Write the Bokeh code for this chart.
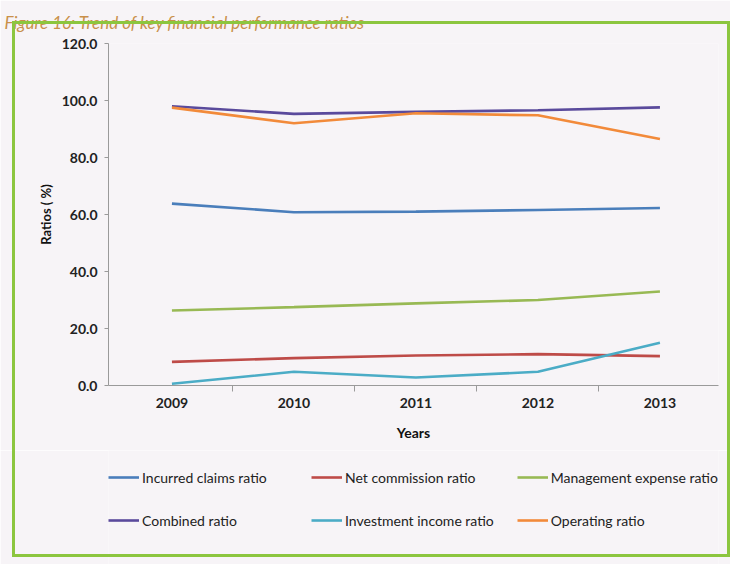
from bokeh.plotting import figure
from bokeh.layouts import column
from bokeh.models import (Legend, LegendItem, FixedTicker, NumeralTickFormatter,
                          Title, Range1d, InlineStyleSheet)
from bokeh.embed import file_html
from bokeh.resources import INLINE

# ---- data ----
years = [2009, 2010, 2011, 2012, 2013]
incurred_claims = [63.8, 60.8, 61.0, 61.6, 62.3]
net_commission = [8.3, 9.6, 10.5, 11.0, 10.3]
management_expense = [26.3, 27.5, 28.8, 30.0, 33.0]
combined = [98.0, 95.3, 96.0, 96.6, 97.6]
investment_income = [0.6, 4.8, 2.8, 4.8, 15.0]
operating = [97.5, 92.0, 95.5, 94.8, 86.5]
y_ticks = [0, 20, 40, 60, 80, 100, 120]

series = [
    ("Incurred claims ratio", incurred_claims, "#4a7ebb"),
    ("Net commission ratio", net_commission, "#be4b48"),
    ("Management expense ratio", management_expense, "#98b954"),
    ("Combined ratio", combined, "#5a4a9c"),
    ("Investment income ratio", investment_income, "#4bacc6"),
    ("Operating ratio", operating, "#f28a3a"),
]

FONT = "Lato"
BG = "#f7f4f7"

# ---- main chart ----
p = figure(width=730, height=450, output_backend="svg", toolbar_location=None,
           x_range=Range1d(2008.48, 2013.48), y_range=Range1d(0, 120),
           min_border_left=108, min_border_right=12, min_border_top=43,
           min_border_bottom=65)
p.background_fill_color = BG
p.border_fill_color = BG
p.outline_line_color = None
p.grid.visible = False

for name, vals, col in series:
    p.line(years, vals, line_color=col, line_width=2.6)

xa = p.xaxis[0]
xa.ticker = FixedTicker(ticks=years, minor_ticks=[y + 0.5 for y in years[:-1]])
xa.major_tick_line_color = None
xa.major_tick_out = 6
xa.minor_tick_out = 6
xa.minor_tick_in = 0
xa.minor_tick_line_color = "#9a9a9a"
xa.axis_line_color = "#9a9a9a"
xa.major_label_text_font = FONT
xa.major_label_text_font_size = "14px"
xa.major_label_text_font_style = "bold"
xa.major_label_text_color = "#222222"
xa.major_label_standoff = 6
xa.axis_label = "Years"
xa.axis_label_text_font = FONT
xa.axis_label_text_font_size = "14px"
xa.axis_label_text_font_style = "bold"
xa.axis_label_text_color = "#111111"
xa.axis_label_standoff = 13

ya = p.yaxis[0]
ya.ticker = FixedTicker(ticks=y_ticks)
ya.formatter = NumeralTickFormatter(format="0.0")
ya.minor_tick_line_color = None
ya.major_tick_out = 4
ya.major_tick_in = 0
ya.major_tick_line_color = "#9a9a9a"
ya.axis_line_color = "#9a9a9a"
ya.major_label_text_font = FONT
ya.major_label_text_font_size = "14px"
ya.major_label_text_font_style = "bold"
ya.major_label_text_color = "#222222"
ya.major_label_standoff = 7
ya.axis_label = "Ratios ( %)"
ya.axis_label_text_font = FONT
ya.axis_label_text_font_size = "13px"
ya.axis_label_text_font_style = "bold"
ya.axis_label_text_color = "#111111"
ya.axis_label_standoff = 5

p.add_layout(Title(text="Figure 16: Trend of key financial performance ratios",
                   text_font=FONT, text_font_size="17px",
                   text_font_style="italic", text_color="#c9904a",
                   align="left", vertical_align="top", offset=-104,
                   standoff=17), "above")

# ---- legend strip (separate figure so the legend is not clipped) ----
pl = figure(width=730, height=114, output_backend="svg", toolbar_location=None,
            x_range=Range1d(0, 1), y_range=Range1d(0, 1),
            x_axis_location=None, y_axis_location=None,
            min_border_left=0, min_border_right=0, min_border_top=0,
            min_border_bottom=0)
pl.background_fill_color = BG
pl.border_fill_color = BG
pl.outline_line_color = None
pl.grid.visible = False

items = []
for name, vals, col in series:
    r = pl.line(years, vals, line_color=col, line_width=2.6)
    items.append(LegendItem(label=name, renderers=[r]))

legend = Legend(items=items, orientation="horizontal", ncols=3,
                location=(0, 34), glyph_width=31, glyph_height=20,
                label_height=20, label_width=146, label_standoff=3, spacing=23,
                padding=0, margin=0, border_line_color=None,
                background_fill_alpha=0,
                label_text_font=FONT, label_text_font_size="14px",
                label_text_color="#222222")
pl.add_layout(legend, "center")

layout = column(p, pl, spacing=0)
# green frame around the chart box (CSS overlay, does not affect layout)
layout.stylesheets = [InlineStyleSheet(css="""
:host { position: relative; }
:host::after { content: ""; position: absolute; left: 12px; top: 21px;
  right: 0px; bottom: 7px; border: 3px solid #8cc63f; pointer-events: none; }
""")]

open("out.html", "w").write(file_html(layout, INLINE))
